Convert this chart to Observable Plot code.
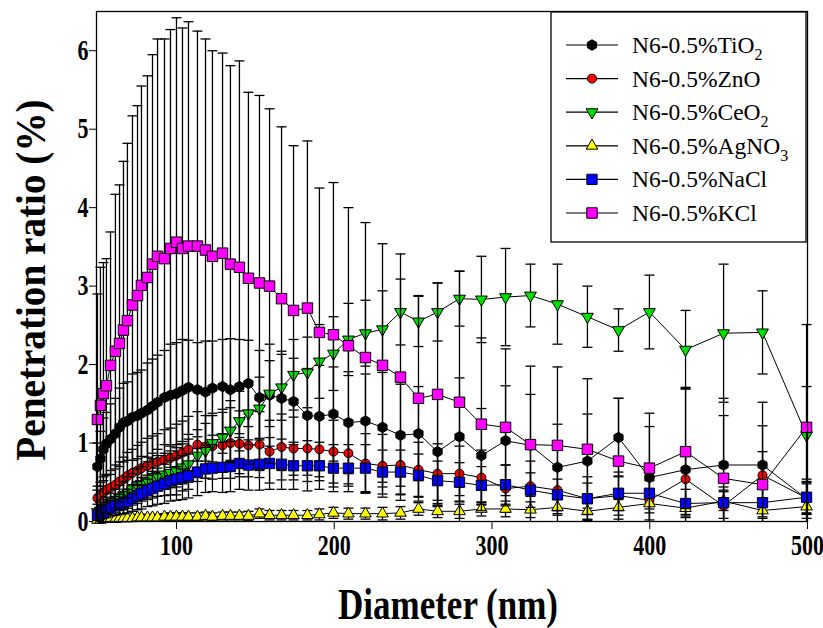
<!DOCTYPE html>
<html><head><meta charset="utf-8">
<script src="https://cdn.jsdelivr.net/npm/d3@7"></script>
<script src="https://cdn.jsdelivr.net/npm/@observablehq/plot@0.6"></script>
<style>
body{margin:0;background:#fff;}
#chart{position:relative;width:823px;height:628px;}
</style></head><body><div id="chart"></div>
<script>
// ---- data ----
const diameter = [49.9, 51.8, 53.7, 55.6, 58.2, 61.3, 63.9, 66.4, 68.9, 72.1, 75.3, 77.8, 81.6, 84.8, 88.0, 92.4, 96.2, 100.0, 103.8, 107.6, 113.3, 118.4, 122.8, 129.2, 134.2, 139.9, 145.6, 152.6, 159.0, 166.6, 174.2, 183.0, 190.6, 199.5, 209.0, 219.8, 230.6, 242.0, 253.4, 265.5, 279.4, 293.3, 308.6, 324.4, 341.5, 360.5, 380.2, 399.8, 422.7, 446.8, 471.5, 499.4];

const tio2 = [0.70, 0.80, 0.92, 0.99, 1.05, 1.12, 1.20, 1.26, 1.28, 1.33, 1.35, 1.38, 1.42, 1.47, 1.52, 1.58, 1.61, 1.63, 1.67, 1.71, 1.68, 1.65, 1.70, 1.72, 1.68, 1.72, 1.76, 1.58, 1.61, 1.57, 1.53, 1.35, 1.34, 1.37, 1.26, 1.28, 1.20, 1.10, 1.12, 0.89, 1.08, 0.84, 1.03, 0.97, 0.69, 0.77, 1.07, 0.56, 0.66, 0.72, 0.72, 0.29];
const tio2Err = [0.30, 0.35, 0.40, 0.40, 0.45, 0.45, 0.50, 0.50, 0.50, 0.55, 0.55, 0.55, 0.60, 0.60, 0.60, 0.60, 0.65, 0.65, 0.65, 0.60, 0.60, 0.65, 0.60, 0.60, 0.65, 0.60, 0.55, 0.60, 0.65, 0.60, 0.55, 0.60, 0.65, 0.60, 0.65, 0.60, 0.70, 0.65, 0.60, 0.70, 0.75, 0.60, 0.70, 0.65, 0.55, 0.60, 0.50, 0.65, 1.05, 0.85, 0.80, 0.25];

const zno = [0.30, 0.33, 0.37, 0.40, 0.43, 0.47, 0.51, 0.54, 0.58, 0.62, 0.65, 0.68, 0.71, 0.74, 0.76, 0.79, 0.81, 0.84, 0.88, 0.92, 0.98, 0.95, 0.96, 0.97, 1.00, 0.99, 0.97, 0.98, 0.89, 0.95, 0.93, 0.93, 0.92, 0.89, 0.87, 0.74, 0.71, 0.72, 0.66, 0.61, 0.61, 0.56, 0.42, 0.45, 0.40, 0.29, 0.33, 0.27, 0.54, 0.20, 0.59, 0.30];
const znoErr = [0.15, 0.17, 0.20, 0.20, 0.22, 0.25, 0.25, 0.28, 0.30, 0.30, 0.32, 0.33, 0.35, 0.35, 0.36, 0.38, 0.38, 0.40, 0.40, 0.42, 0.42, 0.40, 0.42, 0.42, 0.45, 0.42, 0.40, 0.42, 0.40, 0.42, 0.40, 0.42, 0.40, 0.40, 0.42, 0.38, 0.40, 0.38, 0.35, 0.38, 0.35, 0.35, 0.30, 0.32, 0.30, 0.28, 0.30, 0.25, 0.32, 0.20, 0.30, 0.20];

const ceo2 = [0.12, 0.14, 0.16, 0.19, 0.22, 0.26, 0.30, 0.33, 0.37, 0.41, 0.45, 0.48, 0.52, 0.55, 0.58, 0.60, 0.62, 0.64, 0.69, 0.73, 0.84, 0.90, 1.00, 1.07, 1.16, 1.28, 1.38, 1.44, 1.63, 1.71, 1.87, 1.90, 2.04, 2.14, 2.32, 2.40, 2.45, 2.67, 2.55, 2.67, 2.84, 2.83, 2.86, 2.88, 2.77, 2.61, 2.44, 2.67, 2.19, 2.40, 2.41, 1.10];
const ceo2Err = [0.10, 0.10, 0.12, 0.12, 0.14, 0.15, 0.16, 0.18, 0.20, 0.20, 0.22, 0.22, 0.24, 0.25, 0.26, 0.27, 0.28, 0.30, 0.30, 0.32, 0.33, 0.35, 0.35, 0.36, 0.38, 0.38, 0.40, 0.40, 0.42, 0.42, 0.45, 0.45, 0.47, 0.47, 0.46, 0.42, 0.49, 0.42, 0.32, 0.37, 0.35, 0.55, 0.62, 0.40, 0.51, 0.39, 0.27, 0.47, 0.50, 0.88, 0.53, 0.62];

const agno3 = [0.02, 0.02, 0.03, 0.03, 0.03, 0.03, 0.04, 0.04, 0.04, 0.04, 0.05, 0.05, 0.05, 0.05, 0.05, 0.06, 0.06, 0.06, 0.06, 0.06, 0.06, 0.07, 0.06, 0.07, 0.07, 0.07, 0.07, 0.10, 0.08, 0.08, 0.08, 0.08, 0.09, 0.11, 0.10, 0.10, 0.10, 0.11, 0.16, 0.13, 0.13, 0.16, 0.16, 0.15, 0.18, 0.13, 0.18, 0.23, 0.17, 0.26, 0.14, 0.19];
const agno3Err = [0.02, 0.02, 0.02, 0.02, 0.03, 0.03, 0.03, 0.03, 0.03, 0.03, 0.04, 0.04, 0.04, 0.04, 0.04, 0.04, 0.05, 0.05, 0.05, 0.05, 0.05, 0.05, 0.05, 0.05, 0.05, 0.05, 0.06, 0.06, 0.06, 0.06, 0.06, 0.06, 0.07, 0.07, 0.07, 0.07, 0.08, 0.08, 0.08, 0.08, 0.09, 0.09, 0.10, 0.10, 0.10, 0.10, 0.10, 0.12, 0.10, 0.12, 0.10, 0.10];

const nacl = [0.08, 0.10, 0.12, 0.15, 0.17, 0.20, 0.22, 0.24, 0.26, 0.30, 0.33, 0.36, 0.39, 0.42, 0.45, 0.48, 0.52, 0.54, 0.56, 0.58, 0.63, 0.67, 0.68, 0.69, 0.70, 0.74, 0.72, 0.73, 0.74, 0.73, 0.71, 0.71, 0.71, 0.68, 0.68, 0.68, 0.63, 0.63, 0.59, 0.52, 0.50, 0.46, 0.47, 0.40, 0.34, 0.29, 0.36, 0.36, 0.23, 0.24, 0.24, 0.31];
const naclErr = [0.06, 0.07, 0.08, 0.10, 0.10, 0.12, 0.13, 0.14, 0.15, 0.17, 0.18, 0.20, 0.20, 0.22, 0.23, 0.25, 0.26, 0.27, 0.28, 0.28, 0.30, 0.30, 0.30, 0.32, 0.32, 0.33, 0.32, 0.33, 0.33, 0.32, 0.30, 0.32, 0.30, 0.30, 0.30, 0.30, 0.28, 0.28, 0.27, 0.25, 0.25, 0.24, 0.25, 0.22, 0.20, 0.20, 0.22, 0.20, 0.18, 0.20, 0.18, 0.20];

const kcl = [1.30, 1.48, 1.63, 1.73, 1.99, 2.17, 2.27, 2.44, 2.56, 2.76, 2.88, 3.01, 3.11, 3.28, 3.38, 3.35, 3.48, 3.56, 3.48, 3.51, 3.51, 3.46, 3.38, 3.42, 3.28, 3.24, 3.10, 3.04, 3.00, 2.84, 2.69, 2.72, 2.41, 2.38, 2.24, 2.09, 1.99, 1.84, 1.57, 1.62, 1.52, 1.24, 1.20, 0.98, 0.97, 0.92, 0.77, 0.68, 0.89, 0.55, 0.47, 1.20];
const kclErr = [1.60, 1.76, 1.67, 1.62, 1.70, 2.00, 2.02, 2.15, 2.26, 2.41, 2.42, 2.54, 2.57, 2.67, 2.77, 2.80, 2.79, 2.86, 2.81, 2.86, 2.74, 2.69, 2.62, 2.55, 2.53, 2.63, 2.37, 2.39, 2.26, 2.19, 2.10, 2.13, 1.84, 1.94, 1.76, 1.72, 1.55, 1.57, 1.31, 1.42, 1.67, 1.10, 1.00, 1.00, 1.00, 0.90, 0.80, 0.70, 0.80, 0.80, 0.75, 1.31];

const seriesNames = ["TiO2", "ZnO", "CeO2", "AgNO3", "NaCl", "KCl"];
const seriesValues = [tio2, zno, ceo2, agno3, nacl, kcl];
const seriesErrors = [tio2Err, znoErr, ceo2Err, agno3Err, naclErr, kclErr];
const legendMain = ["N6-0.5%TiO", "N6-0.5%ZnO", "N6-0.5%CeO", "N6-0.5%AgNO", "N6-0.5%NaCl", "N6-0.5%KCl"];
const legendSub = ["2", "", "2", "3", "", ""];
const xTicks = [100, 200, 300, 400, 500];
const yTicks = [0, 1, 2, 3, 4, 5, 6];

// ---- styles ----
const hexagon = {draw(ctx, size) {
  const r = Math.sqrt(size / Math.PI) * 1.1;
  for (let i = 0; i < 6; ++i) {
    const a = Math.PI / 3 * i + Math.PI / 6;
    const px = r * Math.cos(a), py = r * Math.sin(a);
    if (i) ctx.lineTo(px, py); else ctx.moveTo(px, py);
  }
  ctx.closePath();
}};
const capSymbol = {draw(ctx, size) {
  const w = Math.sqrt(size / Math.PI);
  ctx.moveTo(-w, 0); ctx.lineTo(w, 0);
}};
const styles = [
  {symbol: hexagon, fill: "#000000", r: 4.8, rotate: 0},
  {symbol: "circle", fill: "#ff0000", r: 4.5, rotate: 0},
  {symbol: "triangle", fill: "#00e000", r: 4.4, rotate: 180},
  {symbol: "triangle", fill: "#ffff00", r: 4.3, rotate: 0},
  {symbol: "square", fill: "#0000ff", r: 5.8, rotate: 0},
  {symbol: "square", fill: "#ff00ff", r: 5.9, rotate: 0}
];

// ---- table ----
const tables = seriesNames.map((name, s) => diameter.map((d, i) => {
  const v = seriesValues[s][i], e = seriesErrors[s][i];
  return {series: name, d, v, e, hi: v + e, lo: Math.max(0, v - e)};
}));

const marks = [];
tables.forEach((rows, s) => {
  const st = styles[s];
  marks.push(
    Plot.ruleX(rows, {x: "d", y1: "lo", y2: "hi", stroke: "black", strokeWidth: 1.3}),
    Plot.dot(rows, {x: "d", y: "hi", symbol: capSymbol, r: 5, fill: "none", stroke: "black", strokeWidth: 1.3}),
    Plot.dot(rows.filter(r => r.v - r.e > 0), {x: "d", y: "lo", symbol: capSymbol, r: 5, fill: "none", stroke: "black", strokeWidth: 1.3}),
    Plot.line(rows, {x: "d", y: "v", stroke: "black", strokeWidth: 1}),
    Plot.dot(rows, {x: "d", y: "v", symbol: st.symbol, r: st.r, rotate: st.rotate, fill: st.fill, fillOpacity: 1, stroke: "black", strokeWidth: 1})
  );
});
marks.push(Plot.frame({stroke: "black", strokeWidth: 1.3}));

const svg = Plot.plot({
  width: 823, height: 628,
  marginLeft: 96, marginRight: 16, marginTop: 11, marginBottom: 107,
  style: {fontFamily: "'Liberation Serif', 'Times New Roman', serif", fontSize: "22px", color: "black", background: "white", overflow: "visible"},
  x: {domain: [49.3, 500], ticks: xTicks, tickSize: 8, tickPadding: 5, label: null, tickFormat: d => String(d)},
  y: {domain: [0, 6.5], ticks: yTicks, tickSize: 7, tickPadding: 1, label: null, tickFormat: d => String(d)},
  marks
});
document.getElementById("chart").appendChild(svg);

const S = d3.select(svg);
// bold, slightly tall tick labels
S.selectAll("text").each(function() {
  const t = d3.select(this);
  t.attr("font-weight", "bold").attr("font-size", 22);
  const tr = t.attr("transform") || "";
  t.attr("transform", tr + " scale(1,1.3)");
});

// axis titles
S.append("text")
  .attr("transform", "translate(448,619) scale(1,1.25)")
  .attr("text-anchor", "middle")
  .attr("font-family", "'Liberation Serif', serif")
  .attr("font-weight", "bold").attr("font-size", 35).attr("fill", "black")
  .text("Diameter (nm)");
S.append("text")
  .attr("transform", "translate(45,280) rotate(-90) scale(1.12,1.2)")
  .attr("text-anchor", "middle")
  .attr("font-family", "'Liberation Serif', serif")
  .attr("font-weight", "bold").attr("font-size", 35).attr("fill", "black")
  .text("Penetration ratio (%)");

// legend
const lg = S.append("g");
lg.append("rect").attr("x", 551).attr("y", 12).attr("width", 255).attr("height", 230)
  .attr("fill", "white").attr("stroke", "black").attr("stroke-width", 1.3);
legendMain.forEach((label, i) => {
  const y = 45 + i * 33.6;
  const st = styles[i];
  lg.append("line").attr("x1", 566).attr("x2", 618).attr("y1", y).attr("y2", y).attr("stroke", "black").attr("stroke-width", 1.2);
  const symType = typeof st.symbol === "string" ? (st.symbol === "circle" ? d3.symbolCircle : st.symbol === "square" ? d3.symbolSquare : d3.symbolTriangle) : st.symbol;
  lg.append("path").attr("d", d3.symbol(symType, st.r * st.r * Math.PI)())
    .attr("transform", `translate(592,${y}) rotate(${st.rotate})`)
    .attr("fill", st.fill).attr("stroke", "black").attr("stroke-width", 1);
  const t = lg.append("text").attr("x", 632).attr("y", y + 8)
    .attr("text-anchor", "start")
    .attr("font-family", "'Liberation Serif', serif").attr("font-size", 23.5).attr("fill", "black")
    .text(label);
  if (legendSub[i]) t.append("tspan").attr("dy", 7).attr("font-size", 16).text(legendSub[i]);
});
</script></body></html>
